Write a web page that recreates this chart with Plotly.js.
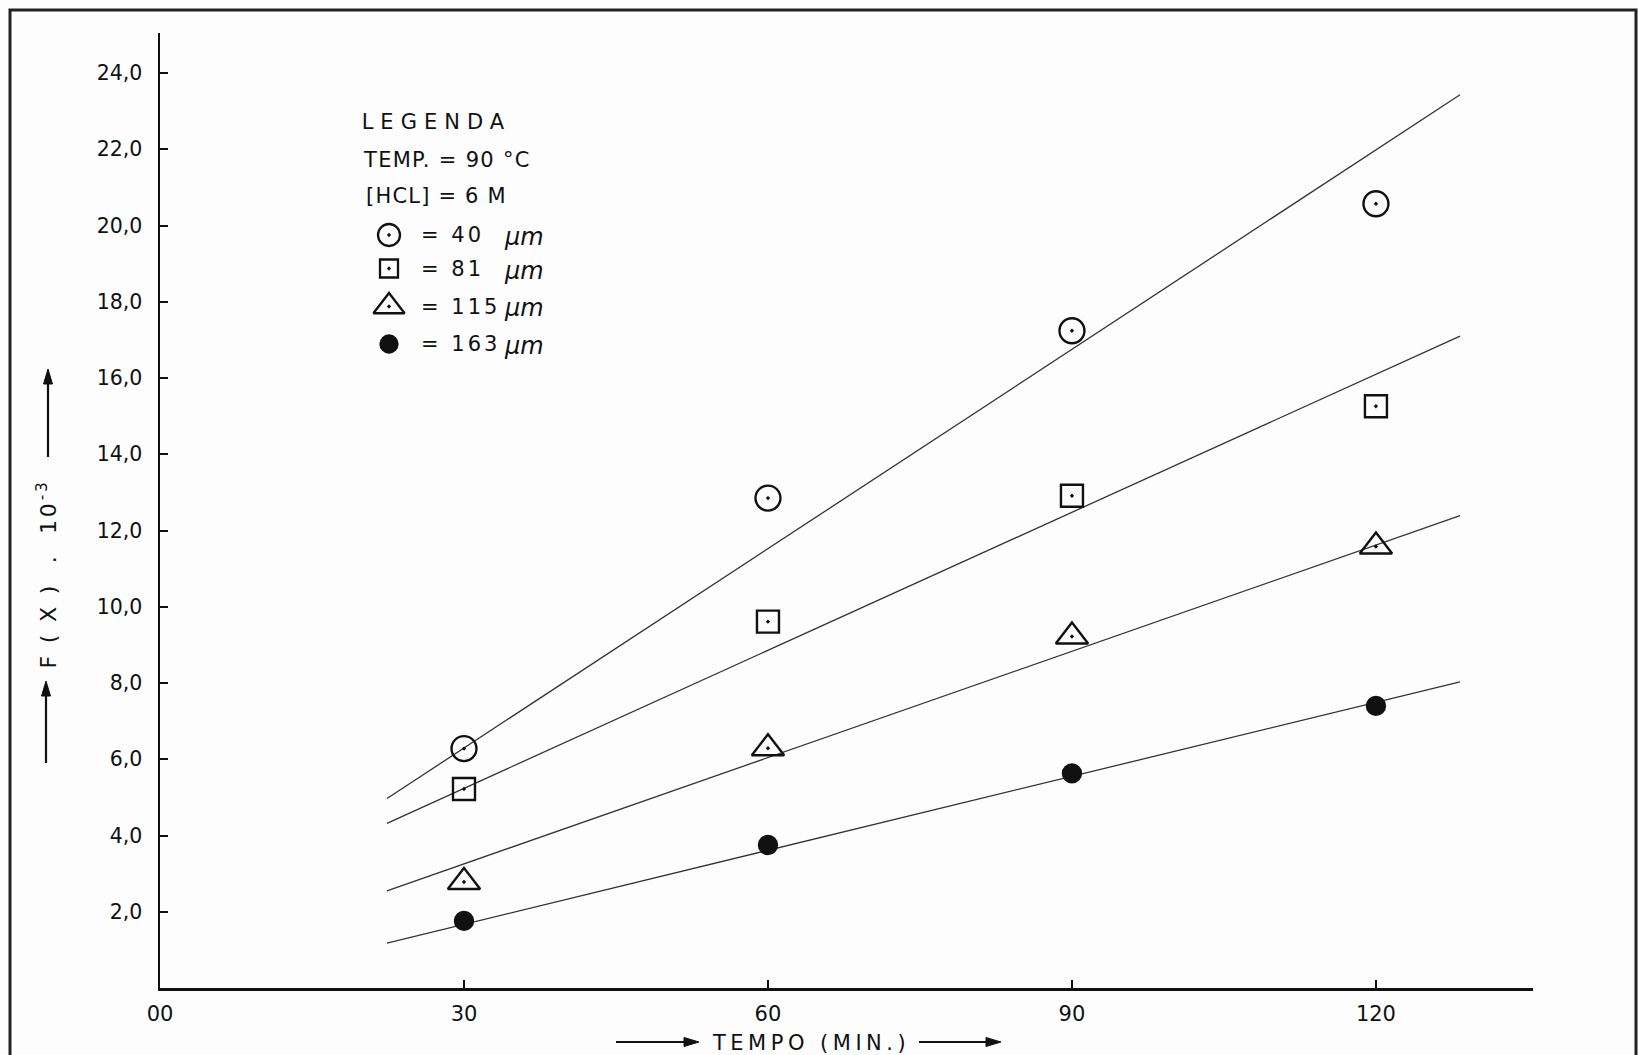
<!DOCTYPE html>
<html>
<head>
<meta charset="utf-8">
<script src="https://cdn.plot.ly/plotly-3.0.1.min.js"></script>
<style>
  html, body { margin: 0; padding: 0; background: #fdfdfd; }
  #chart { width: 1638px; height: 1055px; }
</style>
</head>
<body>
<div id="chart"></div>
<script>
// Tempo de reação (min) e F(X)·10^-3 para cada diâmetro de partícula
const tempo = [30, 60, 90, 120];
const diametros = ['40', '81', '115', '163'];
const fx40  = [6.28, 12.85, 17.24, 20.57];
const fx81  = [5.22, 9.61, 12.91, 15.26];
const fx115 = [2.78, 6.29, 9.22, 11.58];
const fx163 = [1.76, 3.75, 5.63, 7.40];

// Retas ajustadas (extremos em tempo e F(X)·10^-3)
const retaTempo = [22.4, 128.3];
const reta40  = [4.97, 23.43];
const reta81  = [4.32, 17.10];
const reta115 = [2.55, 12.39];
const reta163 = [1.18, 8.03];

// Eixos
const xTicks = [0, 30, 60, 90, 120];
const xTickText = ['00', '30', '60', '90', '120'];
const yTicks = [2, 4, 6, 8, 10, 12, 14, 16, 18, 20, 22, 24];
const yTickText = yTicks.map(v => v.toFixed(1).replace('.', ','));

// Geometria da página (pixels -> coordenadas "paper")
const W = 1638, H = 1055;
const M = { l: 160, r: 105, t: 33, b: 67 };
const pw = W - M.l - M.r, ph = H - M.t - M.b;
const px = x => (x - M.l) / pw;
const py = y => (H - M.b - y) / ph;

const ink = '#111111';
const FONT = 'DejaVu Sans, sans-serif';

const series = [fx40, fx81, fx115, fx163];
const retas = [reta40, reta81, reta115, reta163];
const estilos = [
  { symbol: 'circle-open-dot',      size: 25, key: 22 },
  { symbol: 'square-open-dot',      size: 22, key: 18 },
  { symbol: 'triangle-up-open-dot', size: 28, key: 27 },
  { symbol: 'circle',               size: 18, key: 17 }
];

const traces = [];
retas.forEach(r => {
  traces.push({
    x: retaTempo, y: r, mode: 'lines', type: 'scatter',
    line: { color: '#333333', width: 1.3 },
    showlegend: false, hoverinfo: 'skip'
  });
});
series.forEach((s, i) => {
  traces.push({
    x: tempo, y: s, mode: 'markers', type: 'scatter',
    name: diametros[i] + ' μm',
    marker: {
      symbol: estilos[i].symbol, size: estilos[i].size, color: ink, opacity: 1,
      line: { color: ink, width: 2.4 }
    },
    showlegend: false, cliponaxis: false
  });
});

// Chave da legenda, num par de eixos auxiliares (0–1)
const keyX = 389;
const keyRowsY = [235, 268.5, 306.5, 344];
estilos.forEach((e, i) => {
  traces.push({
    x: [px(keyX)], y: [py(keyRowsY[i])],
    xaxis: 'x2', yaxis: 'y2',
    mode: 'markers', type: 'scatter',
    marker: {
      symbol: e.symbol, size: e.key, color: ink, opacity: 1,
      line: { color: ink, width: 2.3 }
    },
    showlegend: false, hoverinfo: 'skip', cliponaxis: false
  });
});

const annotations = [];
const spacing = {};
function note(text, x, y, opts) {
  annotations.push(Object.assign({
    text: text, xref: 'paper', yref: 'paper', x: px(x), y: py(y),
    xanchor: 'left', yanchor: 'middle', showarrow: false,
    font: { family: FONT, size: 21, color: ink }
  }, opts || {}));
  return annotations.length - 1;
}

// Setas desenhadas como traço + ponta triangular
const shapes = [{
  type: 'rect', xref: 'paper', yref: 'paper', layer: 'below',
  x0: px(10), x1: px(1636), y0: py(1075), y1: py(10),
  line: { color: '#222', width: 3 }
}];
function arrow(x0, y0, x1, y1) {
  const L = Math.hypot(x1 - x0, y1 - y0);
  const ux = (x1 - x0) / L, uy = (y1 - y0) / L;
  const head = 15, half = 4.5;
  const bx = x1 - ux * head, by = y1 - uy * head;
  shapes.push({
    type: 'line', xref: 'paper', yref: 'paper',
    x0: px(x0), y0: py(y0), x1: px(bx), y1: py(by),
    line: { color: ink, width: 2.2 }
  });
  const p = [[x1, y1], [bx - uy * half, by + ux * half], [bx + uy * half, by - ux * half]];
  shapes.push({
    type: 'path', xref: 'paper', yref: 'paper',
    path: 'M' + p.map(q => px(q[0]) + ',' + py(q[1])).join(' L') + ' Z',
    fillcolor: ink, line: { color: ink, width: 1 }
  });
}

// Cabeçalho da legenda
spacing[note('LEGENDA', 360, 122)] = 7;
spacing[note('TEMP. = 90 °C', 361, 160)] = 1.3;
spacing[note('[HCL] = 6 M', 364, 196)] = 1.2;
diametros.forEach((d, i) => {
  spacing[note('= ' + d, 419, keyRowsY[i])] = 3;
  note('<i>μm</i>', 502, keyRowsY[i] + 2, { font: { family: FONT, size: 24, color: ink } });
});

// Título do eixo x com setas
arrow(616, 1042, 699, 1042);
spacing[note('TEMPO (MIN.)', 710, 1043)] = 4.5;
arrow(919, 1042, 1001, 1042);

// Título do eixo y com setas
arrow(46, 763, 46, 681);
spacing[note('F ( X )  .  10<sup>-3</sup>', 47, 574, { xanchor: 'center', textangle: -90, font: { family: FONT, size: 22, color: ink } })] = 2.8;
arrow(48, 457, 48, 369);

const layout = {
  width: W, height: H,
  margin: M,
  paper_bgcolor: '#fdfdfd', plot_bgcolor: '#fdfdfd',
  font: { family: FONT, size: 20, color: ink },
  showlegend: false,
  xaxis: {
    range: [0, 135.5], showgrid: false, zeroline: false,
    showline: true, linecolor: ink, linewidth: 2.5,
    ticks: 'inside', ticklen: 8, tickwidth: 2, tickcolor: ink,
    tickmode: 'array', tickvals: xTicks, ticktext: xTickText,
    ticklabelstandoff: 5,
    tickfont: { family: FONT, size: 21, color: ink }
  },
  yaxis: {
    range: [0, 25.05], showgrid: false, zeroline: false,
    showline: true, linecolor: ink, linewidth: 2.5,
    ticks: 'inside', ticklen: 8, tickwidth: 2, tickcolor: ink,
    tickmode: 'array', tickvals: yTicks, ticktext: yTickText,
    ticklabelstandoff: 11,
    tickfont: { family: FONT, size: 20.5, color: ink }
  },
  xaxis2: { overlaying: 'x', range: [0, 1], visible: false, fixedrange: true },
  yaxis2: { overlaying: 'y', range: [0, 1], visible: false, fixedrange: true },
  annotations: annotations,
  shapes: shapes
};

Plotly.newPlot('chart', traces, layout, { staticPlot: true, displayModeBar: false }).then(() => {
  // espaçamento entre letras, mantendo a margem esquerda de cada texto
  Object.keys(spacing).forEach(k => {
    const t = document.querySelector('.annotation[data-index="' + k + '"] .annotation-text');
    if (!t) return;
    const w0 = t.getBBox().width;
    t.style.letterSpacing = spacing[k] + 'px';
    const w1 = t.getBBox().width;
    if (annotations[k].xanchor === 'left') {
      t.setAttribute('x', parseFloat(t.getAttribute('x') || 0) + (w1 - w0) / 2);
    }
  });
});
</script>
</body>
</html>
